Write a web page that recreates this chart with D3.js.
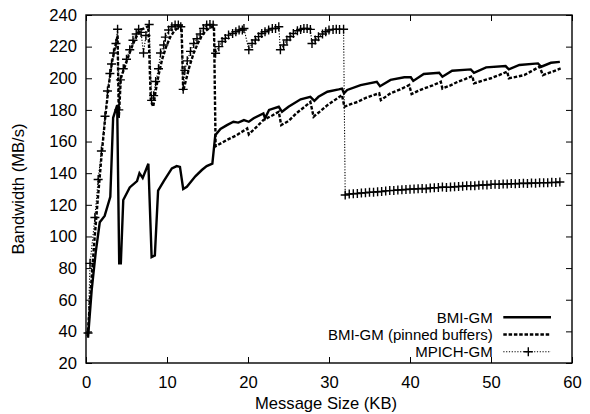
<!DOCTYPE html>
<html>
<head>
<meta charset="utf-8">
<script src="https://cdn.jsdelivr.net/npm/d3@7"></script>
<style>
  body { margin: 0; background: #fff; }
  svg text { font-family: "Liberation Sans", Arial, Helvetica, sans-serif; font-size: 16.6px; fill: #000; }
  svg .legend text { font-size: 15px; }
</style>
</head>
<body>
<div id="viz"></div>
<script>
// [message size KB, bandwidth MB/s]
const bmiGM = [
  [0.25,36],[0.7,66],[1.2,90],[1.7,109],[2.3,113],[3.0,125],[3.35,175],[3.85,183],
  [4.1,83],[4.3,83],[4.6,123],[5.4,131],[6.3,135],[6.6,140],[7.0,137],[7.7,146],
  [8.1,87],[8.5,88],[8.9,129],[9.6,135],[10.6,143],[11.2,144.5],[11.6,144],
  [12.0,130],[12.45,131.4],[13.5,138],[14.3,142],[14.9,144.5],[15.6,146],
  [15.96,164],[16.6,168],[17.4,170.4],[18.2,172.5],[18.8,172],[19.5,173.6],[20.1,172.5],
  [20.7,174.7],[21.9,177.8],[22.1,174.7],[22.6,180],[23.8,182],[24.2,178.8],[25.0,182],
  [26.5,186.7],[27.7,188.3],[28.2,185.8],[28.7,188.3],[29.8,191.5],[31.2,193],[31.6,193.5],
  [31.85,190.5],[32.25,192.6],[33.9,195.7],[35.9,197.8],[36.3,195],[37.6,199],[39.3,200.6],
  [40.1,200.6],[40.4,198.3],[41.7,202.7],[43.6,203.5],[44.0,201],[45.2,204.8],[47.5,205.6],
  [47.9,203.5],[49.4,206.9],[51.8,207.7],[52.2,205.6],[53.5,208.4],[55.8,209.4],[56.2,207.3],
  [57.4,209.8],[58.5,210.4]
]

const bmiPinned = [
  [0.2,37],[0.5,60],[1.0,95],[1.45,123],[1.9,150],[2.35,174],[2.8,195],[3.2,210],[3.6,220],[3.9,227],
  [4.05,175],[4.3,200],[4.7,206],[5.1,212],[5.6,219],[6.0,224],[6.4,228],[6.9,231],[7.4,232],[7.7,233],
  [8.0,186],[8.3,182],[8.6,192],[9.0,203],[9.4,212],[9.9,220],[10.4,226],[10.9,230],[11.4,232],[11.8,233],
  [12.0,192],[12.3,198],[12.8,208],[13.3,216],[13.8,222],[14.3,227],[14.8,230],[15.3,232],[15.8,233],
  [16.0,157],[17.4,161],[18.6,164],[19.9,168.3],[20.1,164.5],[21.0,169],[21.9,173.6],[23.0,176.5],
  [23.8,178.8],[24.1,170.4],[25.0,173],[26.0,178],[27.0,182],[27.7,185],[28.1,175.7],[29.0,179.5],
  [29.8,183],[30.8,186.5],[31.6,189.4],[31.9,182],[32.6,183.5],[33.5,185],[34.5,187.5],[35.5,189.4],
  [36.2,190.5],[36.4,186.2],[37.6,190.5],[38.8,193],[39.9,195.7],[40.2,190],[41.0,192],[41.7,193.5],
  [42.8,195.5],[43.8,197.8],[44.0,193.5],[45.0,195.5],[45.9,197.8],[46.8,199.5],[47.7,201.4],
  [47.9,196.8],[49.0,198.5],[50.0,200],[51.0,202],[52.0,204.2],[52.2,200],[53.2,201],[54.1,202],
  [55.0,204.5],[56.0,207.3],[56.4,202],[57.5,204],[58.6,206.2]
]

const mpichGM = [
  [0.25,39],[0.5,83],[1.1,112],[1.5,136],[1.9,154],[2.35,176],[2.65,192],[2.95,203],[3.15,209],
  [3.4,216],[3.7,222],[3.9,231],
  [4.05,180],[4.25,199],[4.6,206],[5.0,212],[5.4,218],[5.8,224],[6.2,228],[6.5,231],[6.8,229],
  [7.1,216],[7.4,227],[7.8,234],
  [8.1,186],[8.35,189],[8.6,198],[8.95,206],[9.2,216],[9.6,221],[9.8,226],[10.2,230.5],[10.6,232.6],
  [11.0,233.7],[11.4,233.7],[11.7,232.6],
  [12.0,193],[12.2,205],[12.5,211],[12.9,217],[13.3,222],[13.7,225],[14.1,228],[14.5,231.5],
  [14.9,233.7],[15.3,234],[15.7,233.7],
  [16.0,215.8],[16.4,220],[16.8,223.2],[17.2,225.2],[17.6,227.3],[18.1,228.3],[18.5,229.4],
  [18.9,230.5],[19.3,230.5],[19.5,231.5],
  [20.1,218],[20.5,222],[20.9,224.2],[21.3,226.3],[21.7,228.3],[22.1,229.4],[22.55,230.5],
  [23.0,231.5],[23.4,231.5],[23.8,232.6],
  [24.0,218],[24.4,221],[24.8,224.2],[25.2,226.3],[25.6,228.3],[26.1,230],[26.5,230.9],
  [26.9,231.5],[27.3,231.5],[27.7,230.9],
  [27.9,222],[28.3,224.2],[28.7,226.3],[29.2,228],[29.6,229.4],[30.0,230.5],[30.5,230.9],
  [30.9,231],[31.3,230.9],[31.8,231],
  [32.0,126.2],[32.5,126.8],[33.0,127.0],[33.5,127.2],[34.0,127.5],[34.5,127.6],[35.0,127.9],
  [35.5,128.0],[36.0,128.3],[36.5,128.4],[37.0,128.8],[37.5,129.0],[38.0,129.1],[38.5,129.4],
  [39.0,129.5],[39.5,129.7],[40.0,129.9],[40.5,130.0],[41.0,130.2],[41.5,130.3],[42.0,130.2],
  [42.5,130.6],[43.0,130.8],[43.5,130.9],[44.0,131.3],[44.5,131.0],[45.0,131.2],[45.5,131.4],
  [46.0,131.6],[46.5,131.7],[47.0,132.0],[47.5,132.1],[48.0,132.0],[48.5,132.4],[49.0,132.6],
  [49.5,132.5],[50.0,132.9],[50.5,133.0],[51.0,132.9],[51.5,133.2],[52.0,133.1],[52.5,133.4],
  [53.0,133.3],[53.5,133.5],[54.0,133.6],[54.5,133.5],[55.0,133.8],[55.5,133.7],[56.0,133.9],
  [56.5,134.0],[57.0,133.9],[57.5,134.2],[58.0,134.1],[58.5,134.4]
]

const xTicks = [0, 10, 20, 30, 40, 50, 60]
const yTicks = [20, 40, 60, 80, 100, 120, 140, 160, 180, 200, 220, 240]
const seriesNames = ['BMI-GM', 'BMI-GM (pinned buffers)', 'MPICH-GM']

let dimensions = {
  width: 590,
  height: 414,
  margin: { top: 15, right: 18, bottom: 51, left: 86 },
}
dimensions.boundedWidth = dimensions.width - dimensions.margin.left - dimensions.margin.right
dimensions.boundedHeight = dimensions.height - dimensions.margin.top - dimensions.margin.bottom

const wrapper = d3.select('#viz')
  .append('svg')
  .attr('width', dimensions.width)
  .attr('height', dimensions.height)

const chart = wrapper.append('g')
  .attr('transform', `translate(${dimensions.margin.left},${dimensions.margin.top})`)

// scales
const xScale = d3.scaleLinear()
  .domain([0, 60])
  .range([0, dimensions.boundedWidth])

const yScale = d3.scaleLinear()
  .domain([20, 240])
  .range([dimensions.boundedHeight, 0])

// axes, ticks point inward and are mirrored on top / right
const xAxis = chart.append('g')
  .attr('transform', `translate(0,${dimensions.boundedHeight})`)
  .call(d3.axisBottom(xScale).tickValues(xTicks).tickSize(-6).tickPadding(13))
chart.append('g')
  .call(d3.axisTop(xScale).tickValues(xTicks).tickSize(-6).tickFormat(''))

const yAxis = chart.append('g')
  .call(d3.axisLeft(yScale).tickValues(yTicks).tickSize(-6).tickPadding(9))
chart.append('g')
  .attr('transform', `translate(${dimensions.boundedWidth},0)`)
  .call(d3.axisRight(yScale).tickValues(yTicks).tickSize(-6).tickFormat(''))

chart.selectAll('.domain').remove()
chart.selectAll('.tick line').attr('stroke', '#000').attr('stroke-width', 1)
chart.selectAll('.tick text').attr('font-size', null).attr('font-family', null)

chart.append('rect')
  .attr('width', dimensions.boundedWidth)
  .attr('height', dimensions.boundedHeight)
  .attr('fill', 'none')
  .attr('stroke', '#000')
  .attr('stroke-width', 1.4)

// axis titles
wrapper.append('text')
  .attr('x', 326)
  .attr('y', 409)
  .attr('text-anchor', 'middle')
  .text('Message Size (KB)')

wrapper.append('text')
  .attr('transform', `translate(24,${dimensions.margin.top + dimensions.boundedHeight / 2}) rotate(-90)`)
  .attr('text-anchor', 'middle')
  .text('Bandwidth (MB/s)')

// lines
const lineGenerator = d3.line()
  .x(d => xScale(d[0]))
  .y(d => yScale(d[1]))

const styles = [
  { width: 2.4, dash: null },
  { width: 2.4, dash: '3.5,1.8' },
  { width: 1.1, dash: '1.2,1.6' },
]

const plusPath = (x, y) => `M${x - 4.5},${y}h9M${x},${y - 4.5}v9`

chart.append('path')
  .attr('d', lineGenerator(bmiGM))
  .attr('fill', 'none')
  .attr('stroke', '#000')
  .attr('stroke-width', styles[0].width)

chart.append('path')
  .attr('d', lineGenerator(bmiPinned))
  .attr('fill', 'none')
  .attr('stroke', '#000')
  .attr('stroke-width', styles[1].width)
  .attr('stroke-dasharray', styles[1].dash)

chart.append('path')
  .attr('d', lineGenerator(mpichGM))
  .attr('fill', 'none')
  .attr('stroke', '#000')
  .attr('stroke-width', styles[2].width)
  .attr('stroke-dasharray', styles[2].dash)

chart.selectAll('.mark')
  .data(mpichGM)
  .join('path')
  .attr('class', 'mark')
  .attr('d', d => plusPath(xScale(d[0]), yScale(d[1])))
  .attr('fill', 'none')
  .attr('stroke', '#000')
  .attr('stroke-width', 1.4)

// legend
const legend = wrapper.append('g')
  .attr('class', 'legend')
  .attr('transform', 'translate(0,322.8)')

const rows = legend.selectAll('g')
  .data(seriesNames)
  .join('g')
  .attr('transform', (d, i) => `translate(0,${i * 17.3})`)

rows.append('text')
  .attr('x', 492.7)
  .attr('text-anchor', 'end')
  .text(d => d)

rows.append('line')
  .attr('x1', 503.3)
  .attr('x2', 551)
  .attr('y1', -5.6)
  .attr('y2', -5.6)
  .attr('stroke', '#000')
  .attr('stroke-width', (d, i) => styles[i].width)
  .attr('stroke-dasharray', (d, i) => styles[i].dash)

rows.filter((d, i) => i === 2)
  .append('path')
  .attr('d', plusPath(528.3, -5.6))
  .attr('stroke', '#000')
  .attr('stroke-width', 1.4)
</script>
</body>
</html>
